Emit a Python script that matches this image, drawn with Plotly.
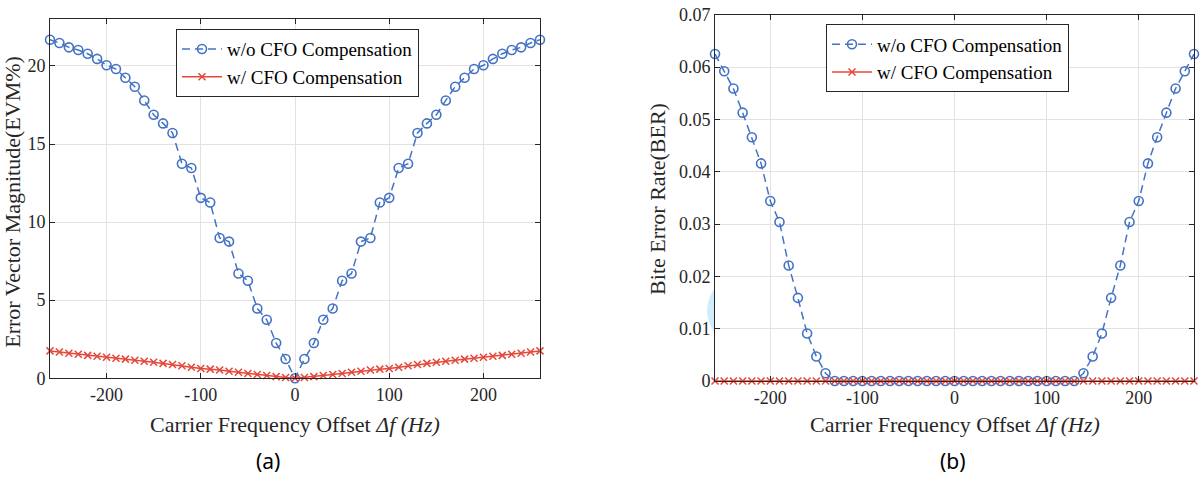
import plotly.graph_objects as go

# ---------------- data ----------------
cfo_hz = [-260, -250, -240, -230, -220, -210, -200, -190, -180, -170, -160, -150, -140,
          -130, -120, -110, -100, -90, -80, -70, -60, -50, -40, -30, -20, -10, 0,
          10, 20, 30, 40, 50, 60, 70, 80, 90, 100, 110, 120, 130, 140, 150, 160,
          170, 180, 190, 200, 210, 220, 230, 240, 250, 260]

evm_wo = [21.68, 21.47, 21.19, 21.02, 20.78, 20.45, 20.04, 19.80, 19.24, 18.67, 17.79, 16.87, 16.32,
          15.71, 13.74, 13.46, 11.55, 11.25, 8.98, 8.75, 6.71, 6.24, 4.46, 3.74, 2.25, 1.23, 0.0,
          1.23, 2.25, 3.74, 4.46, 6.24, 6.71, 8.75, 8.98, 11.25, 11.55, 13.46, 13.74, 15.71, 16.32,
          16.87, 17.79, 18.67, 19.24, 19.80, 20.04, 20.45, 20.78, 21.02, 21.19, 21.47, 21.68]

evm_w = [1.75, 1.68, 1.60, 1.53, 1.46, 1.40, 1.34, 1.28, 1.22, 1.15, 1.08, 1.02, 0.95,
         0.88, 0.80, 0.70, 0.62, 0.58, 0.52, 0.45, 0.38, 0.30, 0.24, 0.17, 0.10, 0.05, 0.0,
         0.05, 0.10, 0.17, 0.24, 0.30, 0.38, 0.45, 0.52, 0.58, 0.62, 0.70, 0.80, 0.88, 0.95,
         1.02, 1.08, 1.15, 1.22, 1.28, 1.34, 1.40, 1.46, 1.53, 1.60, 1.68, 1.75]

ber_wo = [0.0625, 0.0592, 0.0559, 0.0513, 0.0466, 0.0416, 0.0344, 0.0304, 0.0221, 0.0159, 0.0091, 0.0047, 0.0015,
          0.0, 0.0, 0.0, 0.0, 0.0, 0.0, 0.0, 0.0, 0.0, 0.0, 0.0, 0.0, 0.0, 0.0,
          0.0, 0.0, 0.0, 0.0, 0.0, 0.0, 0.0, 0.0, 0.0, 0.0, 0.0, 0.0, 0.0, 0.0015,
          0.0047, 0.0091, 0.0159, 0.0221, 0.0304, 0.0344, 0.0416, 0.0466, 0.0513, 0.0559, 0.0592, 0.0625]

ber_w = [0.0] * len(cfo_hz)

x_ticks = [-200, -100, 0, 100, 200]
x_ticklabels = ["-200", "-100", "0", "100", "200"]
evm_ticks = [0, 5, 10, 15, 20]
evm_ticklabels = ["0", "5", "10", "15", "20"]
ber_ticks = [0, 0.01, 0.02, 0.03, 0.04, 0.05, 0.06, 0.07]
ber_ticklabels = ["0", "0.01", "0.02", "0.03", "0.04", "0.05", "0.06", "0.07"]

name_wo = "w/o CFO Compensation"
name_w = "w/ CFO Compensation"

# ---------------- style ----------------
W, H = 1200, 486
BLUE = "#4472C4"
RED = "#E5483A"
SERIF = "Liberation Serif"
AXC = "#262626"
GRID = "#e2e2e2"


def px(x):
    return x / W


def py(y):
    return 1 - y / H


fig = go.Figure()

for xa, ya, yw, yo, leg in [("x", "y", evm_w, evm_wo, "legend"),
                            ("x2", "y2", ber_w, ber_wo, "legend2")]:
    fig.add_trace(go.Scatter(
        x=cfo_hz, y=yo, name=name_wo, xaxis=xa, yaxis=ya, legend=leg,
        mode="lines+markers", cliponaxis=False,
        line=dict(color=BLUE, width=1.5, dash="8px,5px"),
        marker=dict(symbol="circle-open", size=9, color=BLUE, line=dict(width=1.6, color=BLUE)),
    ))
    fig.add_trace(go.Scatter(
        x=cfo_hz, y=yw, name=name_w, xaxis=xa, yaxis=ya, legend=leg,
        mode="lines+markers", cliponaxis=False,
        line=dict(color=RED, width=1.5),
        marker=dict(symbol="x-thin", size=7, color=RED, line=dict(width=1.5, color=RED)),
    ))

axis_common = dict(
    showline=True, linecolor=AXC, linewidth=1, mirror="allticks",
    ticks="inside", ticklen=5, tickwidth=1, tickcolor=AXC,
    showgrid=True, gridcolor=GRID, gridwidth=1, zeroline=False,
    tickfont=dict(family=SERIF, size=18, color=AXC),
    ticklabeloverflow="allow",
)

fig.update_layout(
    width=W, height=H,
    margin=dict(l=0, r=0, t=0, b=0),
    font=dict(family=SERIF, size=18, color=AXC),
    paper_bgcolor="white", plot_bgcolor="white",
    xaxis=dict(domain=[px(50), px(540)], range=[-260, 260], tickvals=x_ticks, ticktext=x_ticklabels,
               anchor="y", **axis_common),
    yaxis=dict(domain=[py(384), py(9.5)], range=[0, 23], tickvals=evm_ticks, ticktext=evm_ticklabels,
               anchor="x", **axis_common),
    xaxis2=dict(domain=[px(715), px(1194)], range=[-260, 260], tickvals=x_ticks, ticktext=x_ticklabels,
                anchor="y2", **axis_common),
    yaxis2=dict(domain=[py(387), py(5)], range=[0, 0.0700001], tickvals=ber_ticks, ticktext=ber_ticklabels,
                anchor="x2", **axis_common),
    legend=dict(x=px(176), y=py(20), xanchor="left", yanchor="top",
                bgcolor="white", bordercolor=AXC, borderwidth=1,
                font=dict(family=SERIF, size=19, color="black"),
                itemwidth=40, tracegroupgap=0),
    legend2=dict(x=px(826), y=py(15), xanchor="left", yanchor="top",
                 bgcolor="white", bordercolor=AXC, borderwidth=1,
                 font=dict(family=SERIF, size=19, color="black"),
                 itemwidth=40, tracegroupgap=0),
    showlegend=True,
)

xlabel = "Carrier Frequency Offset <i>Δf (Hz)</i>"
ann_font = dict(family=SERIF, size=22, color=AXC)
annotations = [
    dict(text=xlabel, x=px(295), y=py(432), xref="paper", yref="paper",
         xanchor="center", yanchor="middle", showarrow=False, font=ann_font),
    dict(text=xlabel, x=px(955), y=py(432), xref="paper", yref="paper",
         xanchor="center", yanchor="middle", showarrow=False, font=ann_font),
    dict(text="Error Vector Magnitude(EVM%)", x=px(13), y=py(200), xref="paper", yref="paper",
         xanchor="center", yanchor="middle", textangle=-90, showarrow=False, font=ann_font),
    dict(text="Bite Error Rate(BER)", x=px(658), y=py(197), xref="paper", yref="paper",
         xanchor="center", yanchor="middle", textangle=-90, showarrow=False, font=ann_font),
    dict(text="(a)", x=px(268), y=py(470), xref="paper", yref="paper",
         xanchor="center", yanchor="middle", showarrow=False,
         font=dict(family="Noto Sans", size=21, color="black")),
    dict(text="(b)", x=px(953), y=py(470), xref="paper", yref="paper",
         xanchor="center", yanchor="middle", showarrow=False,
         font=dict(family="Noto Sans", size=21, color="black")),
]
fig.update_layout(annotations=annotations)

# faint cyan smudge left of the BER axis in the reference
fig.add_shape(type="path", xref="paper", yref="paper",
              path=f"M {px(715)} {py(290)} Q {px(699)} {py(313)} {px(715)} {py(337)} Z",
              fillcolor="#cfeefa", line=dict(width=0), layer="below")

fig.write_html("out.html",
               config={"displayModeBar": False},
               post_script="document.body.style.margin='0';document.body.style.overflow='hidden';")
